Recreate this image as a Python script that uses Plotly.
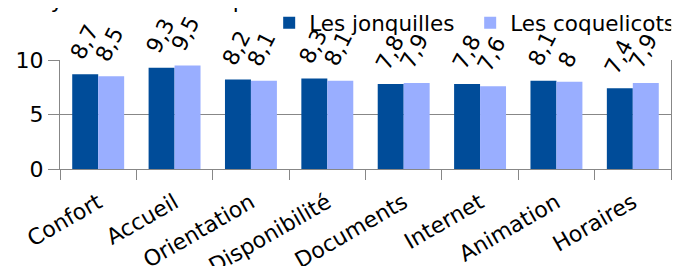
import plotly.graph_objects as go

categories = ["Confort", "Accueil", "Orientation", "Disponibilité", "Documents", "Internet", "Animation", "Horaires"]
jonquilles = [8.7, 9.3, 8.2, 8.3, 7.8, 7.8, 8.1, 7.4]
coquelicots = [8.5, 9.5, 8.1, 8.1, 7.9, 7.6, 8.0, 7.9]
series_names = ["Les jonquilles", "Les coquelicots"]
title_text = "Moyennes des critiques selon les deux sites"

FONT = "DejaVu Sans"
FS = 22
DARK = "#004c99"
LIGHT = "#99aeff"
GRID = "#878787"


def fmt(v):
    s = f"{v:g}"
    return s.replace(".", ",")


fig = go.Figure()
fig.add_trace(go.Bar(x=categories, y=jonquilles, name=series_names[0], marker_color=DARK, marker_line_width=0))
fig.add_trace(go.Bar(x=categories, y=coquelicots, name=series_names[1], marker_color=LIGHT, marker_line_width=0))

annotations = []
for vals, shift in ((jonquilles, -14), (coquelicots, 11)):
    for c, v in zip(categories, vals):
        annotations.append(dict(
            x=c, y=v, xref="x", yref="y", text=fmt(v), showarrow=False,
            textangle=-63, xanchor="center", yanchor="bottom", xshift=shift, yshift=8,
            font=dict(family=FONT, size=FS, color="black"),
        ))

annotations.append(dict(
    x=0.327, y=1, xref="paper", yref="paper", text=title_text, showarrow=False,
    xanchor="center", yanchor="bottom", yshift=45,
    font=dict(family=FONT, size=FS, color="black"),
))

fig.update_layout(
    width=690, height=266,
    margin=dict(l=52, r=27, t=52, b=105, autoexpand=False),
    paper_bgcolor="white", plot_bgcolor="white",
    barmode="group", bargap=0.32, bargroupgap=0,
    font=dict(family=FONT, size=FS, color="black"),
    showlegend=True,
    legend=dict(orientation="h", x=1.0003, xanchor="right", y=1.53, yanchor="top",
                font=dict(family=FONT, size=21.5), bgcolor="rgba(0,0,0,0)",
                itemwidth=30, tracegroupgap=0, entrywidth=156, entrywidthmode="pixels"),
    annotations=annotations,
    xaxis=dict(
        type="category", tickangle=-30, ticks="outside", tickson="boundaries",
        ticklen=10, tickcolor=GRID, tickwidth=1.3, automargin=False,
        ticklabelstandoff=11,
        showline=True, linecolor=GRID, linewidth=1.3, showgrid=False,
        tickfont=dict(family=FONT, size=FS, color="black"),
    ),
    yaxis=dict(
        range=[0, 10], tickvals=[0, 5, 10], ticks="outside", ticklen=11,
        tickcolor=GRID, tickwidth=1.3, showline=True, mirror=True, automargin=False,
        linecolor=GRID, linewidth=1.3, showgrid=True, gridcolor=GRID, gridwidth=1.3,
        zeroline=False, tickfont=dict(family=FONT, size=FS, color="black"),
    ),
)

fig.write_html("out.html")
